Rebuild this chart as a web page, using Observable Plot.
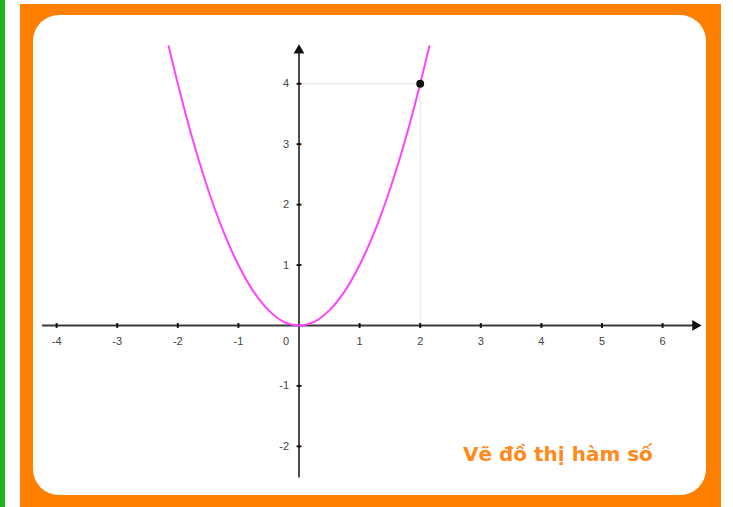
<!DOCTYPE html>
<html>
<head>
<meta charset="utf-8">
<script src="https://cdn.jsdelivr.net/npm/d3@7"></script>
<script src="https://cdn.jsdelivr.net/npm/@observablehq/plot@0.6"></script>
<style>
  html, body { margin: 0; padding: 0; background: #fff; }
  #wrap { position: relative; width: 733px; height: 507px; overflow: hidden; }
  #green { position: absolute; left: 0; top: 0; width: 5px; height: 507px; background: #1db31d; }
  #orange { position: absolute; left: 20px; top: 4px; width: 701px; height: 510px; background: #ff8000; }
  #inner { position: absolute; left: 33px; top: 15px; width: 673px; height: 480px; background: #fff; border-radius: 26px; }
  #chart { position: absolute; left: 0; top: 0; }
  #caption { position: absolute; left: 463px; top: 443px; font: bold 20px "DejaVu Sans", Verdana, sans-serif; line-height: 22px; color: #ff8a1a; white-space: nowrap; }
</style>
</head>
<body>
<div id="wrap">
  <div id="green"></div>
  <div id="orange"></div>
  <div id="inner"></div>
  <div id="chart"></div>
  <div id="caption">Vẽ đồ thị hàm số</div>
</div>
<script>
// Tick values and labels
const xTicks = [-4, -3, -2, -1, 1, 2, 3, 4, 5, 6];
const xTickLabels = ["-4", "-3", "-2", "-1", "1", "2", "3", "4", "5", "6"];
const yTicks = [-2, -1, 1, 2, 3, 4];
const yTickLabels = ["-2", "-1", "1", "2", "3", "4"];

// Parabola points
const curveX = [-2.15, -2, -1.75, -1.5, -1.25, -1, -0.75, -0.5, -0.25, 0, 0.25, 0.5, 0.75, 1, 1.25, 1.5, 1.75, 2, 2.15];
const curveY = [4.62, 4, 3.06, 2.25, 1.56, 1, 0.56, 0.25, 0.06, 0, 0.06, 0.25, 0.56, 1, 1.56, 2.25, 3.06, 4, 4.62];

// Highlighted point
const pointX = [2];
const pointY = [4];

// Axis extents
const xAxisExtent = [-4.24, 6.59];
const yAxisExtent = [-2.515, 4.60];

const curve = curveX.map((x, i) => ({x, y: curveY[i]}));
const pts = pointX.map((x, i) => ({x, y: pointY[i]}));

const axisColor = "#3a3a3a";

const chart = Plot.plot({
  width: 733,
  height: 507,
  margin: 0,
  style: {background: "transparent", fontFamily: "Liberation Sans, Arial, sans-serif"},
  x: {domain: [-4.926, 7.170], axis: null},
  y: {domain: [-3.012, 5.378], axis: null},
  marks: [
    // guide lines to the point
    Plot.link(pts, {x1: 0, y1: d => d.y, x2: d => d.x, y2: d => d.y, stroke: "#e6e6e6", strokeWidth: 1}),
    Plot.link(pts, {x1: d => d.x, y1: 0, x2: d => d.x, y2: d => d.y, stroke: "#e6e6e6", strokeWidth: 1}),
    // axes
    Plot.link([0], {x1: xAxisExtent[0], x2: xAxisExtent[1], y1: 0, y2: 0, stroke: axisColor, strokeWidth: 1.8}),
    Plot.link([0], {x1: 0, x2: 0, y1: yAxisExtent[0], y2: yAxisExtent[1], stroke: axisColor, strokeWidth: 1.8}),
    Plot.dot([0], {x: xAxisExtent[1], y: 0, symbol: "triangle", r: 4, fill: "#111", rotate: 90, dx: -3}),
    Plot.dot([0], {x: 0, y: yAxisExtent[1], symbol: "triangle", r: 4, fill: "#111", dy: 3}),
    // tick marks
    Plot.link(xTicks, {x1: d => d, x2: d => d, y1: -0.04, y2: 0.04, stroke: "#111", strokeWidth: 2}),
    Plot.link(yTicks, {y1: d => d, y2: d => d, x1: -0.04, x2: 0.04, stroke: "#111", strokeWidth: 2}),
    // tick labels
    Plot.text(xTicks, {x: d => d, y: 0, text: (d, i) => xTickLabels[i], dy: 16, fontSize: 11, fill: "#444"}),
    Plot.text(["0"], {x: 0, y: 0, text: d => d, dx: -13, dy: 16, fontSize: 11, fill: "#444"}),
    Plot.text(yTicks, {x: 0, y: d => d, text: (d, i) => yTickLabels[i], dx: -10, textAnchor: "end", fontSize: 11, fill: "#444"}),
    // parabola
    Plot.line(curve, {x: "x", y: "y", curve: "catmull-rom", stroke: "#ff44ff", strokeWidth: 2}),
    // point
    Plot.dot(pts, {x: "x", y: "y", r: 3.2, fill: "#111", stroke: "#111"})
  ]
});
document.getElementById("chart").appendChild(chart);
</script>
</body>
</html>
